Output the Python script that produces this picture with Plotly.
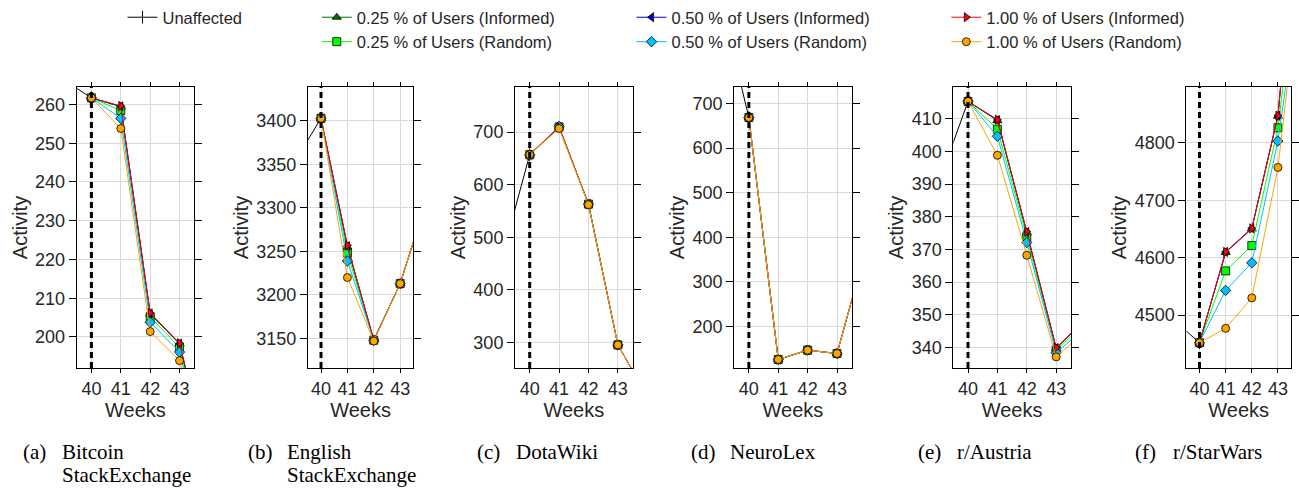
import plotly.graph_objects as go

# weeks shown around the intervention (week 40)
weeks_before = [39, 40]
weeks_after = [40, 41, 42, 43, 44]
week_ticks = [40, 41, 42, 43]

series_names = [
    "0.25 % of Users (Informed)", "0.25 % of Users (Random)",
    "0.50 % of Users (Informed)", "0.50 % of Users (Random)",
    "1.00 % of Users (Informed)", "1.00 % of Users (Random)",
]
series_colors = ["#007000", "#00ff00", "#0000d0", "#00bfff", "#ff0000", "#ffa500"]
series_markers = ["triangle-up", "square", "triangle-left", "diamond", "triangle-right", "circle"]

# activity per dataset; runs follow series_names order
bitcoin_unaffected = [266.6, 261.7]
bitcoin_runs = [
    [261.7, 259.4, 205.9, 198.2, 167],
    [261.7, 258.4, 205.2, 197.3, 166],
    [261.7, 259.5, 206.1, 198.3, 167],
    [261.7, 256.4, 203.8, 196.1, 165],
    [261.7, 259.6, 206.2, 198.4, 167],
    [261.7, 253.8, 201.4, 193.9, 163],
]

english_unaffected = [3353, 3403]
english_runs = [
    [3403, 3255, 3148, 3213, 3309],
    [3403, 3248, 3148, 3213, 3309],
    [3403, 3256, 3148, 3213, 3309],
    [3403, 3239, 3148, 3213, 3309],
    [3403, 3257, 3148, 3213, 3309],
    [3403, 3220, 3147, 3213, 3309],
]

dota_unaffected = [451, 657]
dota_runs = [
    [657, 710, 563, 295, 197],
    [657, 710, 563, 295, 197],
    [657, 710, 563, 295, 197],
    [657, 711, 563, 295, 197],
    [657, 710, 563, 295, 197],
    [657, 707, 562, 295, 197],
]

neurolex_unaffected = [943, 668.6]
neurolex_runs = [
    [668.6, 126, 147, 139.5, 378],
    [668.6, 126, 147, 139.5, 378],
    [668.6, 126, 147, 139.5, 378],
    [668.6, 126, 147, 139.5, 378],
    [668.6, 126, 147, 139.5, 378],
    [668.6, 126, 147, 139.5, 378],
]

austria_unaffected = [390.3, 415.3]
austria_runs = [
    [415.3, 409.4, 375.0, 339.7, 348.5],
    [415.3, 406.8, 373.8, 339.2, 347.5],
    [415.3, 409.6, 375.3, 339.8, 348.6],
    [415.3, 404.6, 372.1, 338.4, 346.0],
    [415.3, 409.7, 375.4, 339.9, 348.7],
    [415.3, 398.8, 368.2, 337.1, 345.2],
]

starwars_unaffected = [4492, 4452]
starwars_runs = [
    [4452, 4609, 4650, 4846, 5340],
    [4452, 4577, 4621, 4826, 5200],
    [4452, 4610, 4651, 4847, 5345],
    [4452, 4543, 4591, 4803, 5120],
    [4452, 4610, 4651, 4847, 5347],
    [4452, 4477, 4530, 4757, 5150],
]

panel_labels = ["(a)", "(b)", "(c)", "(d)", "(e)", "(f)"]
panel_titles = ["Bitcoin\nStackExchange", "English\nStackExchange", "DotaWiki",
                "NeuroLex", "r/Austria", "r/StarWars"]

panels = [
    (bitcoin_unaffected, bitcoin_runs, [192, 264.5], 10),
    (english_unaffected, english_runs, [3116, 3439], 50),
    (dota_unaffected, dota_runs, [251, 786], 100),
    (neurolex_unaffected, neurolex_runs, [107, 737], 100),
    (austria_unaffected, austria_runs, [333.7, 419.7], 10),
    (starwars_unaffected, starwars_runs, [4408, 4897], 100),
]

W, H = 1299, 489
x_doms_px = [(77, 195), (309, 415), (517, 635), (737, 855), (957, 1075), (1191, 1296)]
y_dom = [1 - 368 / H, 1 - 87 / H]
caption_x = [22, 248, 478, 693, 921, 1138]

SANS = "Liberation Sans, Arial, sans-serif"
SERIF = "Liberation Serif, Times New Roman, serif"

fig = go.Figure()
legend_for = ["legend2", "legend2", "legend3", "legend3", "legend4", "legend4"]

for i, (unaff, runs, yr, dt) in enumerate(panels):
    k = "" if i == 0 else str(i + 1)
    fig.add_trace(go.Scatter(
        x=weeks_before, y=unaff, mode="lines+markers", name="Unaffected",
        line=dict(color="black", width=1),
        marker=dict(symbol="line-ns", size=9, line=dict(color="black", width=1)),
        legend="legend", showlegend=(i == 0), xaxis="x" + k, yaxis="y" + k))
    for j, vals in enumerate(runs):
        fig.add_trace(go.Scatter(
            x=weeks_after, y=vals, mode="lines+markers", name=series_names[j],
            line=dict(color=series_colors[j], width=1),
            marker=dict(symbol=series_markers[j], size=8, color=series_colors[j],
                        line=dict(color="black", width=0.8)),
            legend=legend_for[j], showlegend=(i == 0), xaxis="x" + k, yaxis="y" + k))

    ax = dict(showline=True, linecolor="black", linewidth=1, mirror="allticks",
              ticks="outside", tickcolor="black", showgrid=True,
              gridcolor="#d9d9d9", gridwidth=1, zeroline=False,
              tickfont=dict(family=SANS, size=18, color="#262626"))
    x0, x1 = x_doms_px[i]
    fig.update_layout({
        "xaxis" + k: dict(ax, domain=[x0 / W, x1 / W], range=[39.5, 43.5], ticklen=4,
                          tickvals=week_ticks, anchor="y" + k,
                          title=dict(text="Weeks", standoff=0,
                                     font=dict(family=SANS, size=20, color="#262626"))),
        "yaxis" + k: dict(ax, domain=y_dom, range=yr, dtick=dt, anchor="x" + k, ticklen=7,
                          title=dict(text="Activity", standoff=2,
                                     font=dict(family=SANS, size=20, color="#262626"))),
    })
    fig.add_shape(type="line", xref="x" + k, yref="y" + k + " domain", x0=40, x1=40,
                  y0=0, y1=1, line=dict(color="black", width=3, dash="6px,4px"), layer="above")

    lines = panel_titles[i].split("\n")
    fig.add_annotation(text=panel_labels[i], xref="paper", yref="paper",
                       x=caption_x[i] / W, y=1 - 452 / H, xanchor="left", yanchor="middle",
                       showarrow=False, borderpad=0,
                       font=dict(family=SERIF, size=21, color="black"))
    for n, line in enumerate(lines):
        fig.add_annotation(text=line, xref="paper", yref="paper",
                           x=(caption_x[i] + 39) / W, y=1 - (452 + 23 * n) / H,
                           xanchor="left", yanchor="middle", showarrow=False, borderpad=0,
                           font=dict(family=SERIF, size=21, color="black"))

leg = dict(orientation="v", yanchor="top", y=1.0, bgcolor="rgba(0,0,0,0)",
           font=dict(family=SANS, size=16.5, color="#262626"), tracegroupgap=0)
fig.update_layout(
    width=W, height=H, margin=dict(l=0, r=0, t=0, b=0),
    paper_bgcolor="white", plot_bgcolor="white",
    legend=dict(leg, x=123 / W, xanchor="left"),
    legend2=dict(leg, x=318 / W, xanchor="left"),
    legend3=dict(leg, x=634 / W, xanchor="left"),
    legend4=dict(leg, x=950 / W, xanchor="left"),
)

# drop the browser's default page margin so the figure sits at the window origin
fig.write_html("out.html", config={"displayModeBar": False},
               post_script="document.body.style.margin = '0';")
